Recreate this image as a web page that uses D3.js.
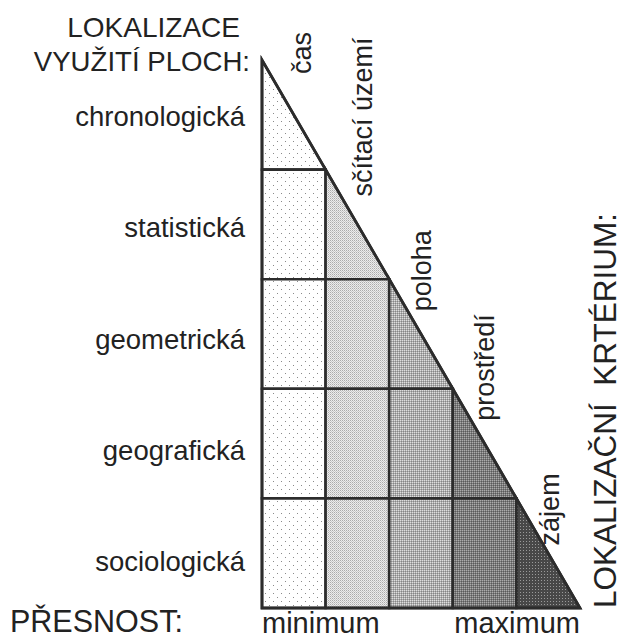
<!DOCTYPE html>
<html><head><meta charset="utf-8">
<script src="https://cdn.jsdelivr.net/npm/d3@7/dist/d3.min.js"></script>
<style>
html,body{margin:0;padding:0;background:#fff;}
svg{display:block;}
text{font-family:"Liberation Sans",Arial,Helvetica,sans-serif;fill:#222;}
</style></head>
<body>
<script>
// ---- data ----
const usageLocalization = ["chronologická","statistická","geometrická","geografická","sociologická"];
const localizationCriteria = ["čas","sčítací území","poloha","prostředí","zájem"];
const shadeLevels = [0,1,2,3,4];          // shading level of each criterion column
const precisionTicks = ["minimum","maximum"];
const titleLeft = ["LOKALIZACE","VYUŽITÍ PLOCH:"];
const titleRight = "LOKALIZAČNÍ  KRTÉRIUM:";
const titleBottom = "PŘESNOST:";

// ---- layout ----
const W = 626, H = 639;
const svg = d3.select("body").append("svg").attr("width", W).attr("height", H);
const n = usageLocalization.length;
const x = d3.scaleLinear().domain([0, n]).range([262, 580]);
const y = d3.scaleLinear().domain([0, n]).range([60, 608]);
const labelY = d3.scalePoint().domain(usageLocalization).range([126, 571]);
const diagDx = [-15, -17, -22, -22, -21];
const diagDy = [14, 27, 32, 32, 47];

// patterns
const defs = svg.append("defs");
const patternSpecs = [
  {size: 8, bg: "#ffffff", px: [[1,1,"#8a8a8a"],[5,5,"#8a8a8a"]]},
  {size: 2, bg: "#ececec", px: [[0,0,"#ababab"],[1,1,"#c9c9c9"]]},
  {size: 2, bg: "#adadad", px: [[0,0,"#dedede"],[1,1,"#868686"]]},
  {size: 2, bg: "#7c7c7c", px: [[0,0,"#ababab"],[1,1,"#5a5a5a"]]},
  {size: 3, bg: "#484848", px: [[1,1,"#9a9a9a"]]}
];
patternSpecs.forEach((p, i) => {
  const pat = defs.append("pattern").attr("id", "shade" + i)
    .attr("patternUnits", "userSpaceOnUse").attr("width", p.size).attr("height", p.size);
  pat.append("rect").attr("width", p.size).attr("height", p.size).attr("fill", p.bg);
  p.px.forEach(d => pat.append("rect").attr("x", d[0]).attr("y", d[1])
    .attr("width", 1).attr("height", 1).attr("fill", d[2]));
});

// cells
const cells = [];
usageLocalization.forEach((row, r) => {
  localizationCriteria.forEach((col, c) => {
    if (c <= r) cells.push({r, c, tri: c === r});
  });
});
const line = d3.line();
svg.append("g").selectAll("path").data(cells).join("path")
  .attr("d", d => d.tri
    ? line([[x(d.c), y(d.r)], [x(d.c), y(d.r + 1)], [x(d.c + 1), y(d.r + 1)]]) + "Z"
    : line([[x(d.c), y(d.r)], [x(d.c + 1), y(d.r)], [x(d.c + 1), y(d.r + 1)], [x(d.c), y(d.r + 1)]]) + "Z")
  .attr("fill", d => "url(#shade" + shadeLevels[d.c] + ")")
  .attr("stroke", "#2c2c2c").attr("stroke-width", 2.6).attr("stroke-linejoin", "miter");

// outline
svg.append("path")
  .attr("d", line([[x(0), y(0)], [x(0), y(n)], [x(n), y(n)]]) + "Z")
  .attr("fill", "none").attr("stroke", "#2c2c2c").attr("stroke-width", 2.8).attr("stroke-linejoin", "miter");

// row labels
svg.append("g").selectAll("text").data(usageLocalization).join("text")
  .attr("x", 245).attr("y", d => labelY(d))
  .attr("text-anchor", "end").attr("font-size", 27.5).text(d => d);

// left title
svg.append("text").attr("x", 240).attr("y", 37).attr("text-anchor", "end").attr("font-size", 28).text(titleLeft[0]);
svg.append("text").attr("x", 250).attr("y", 71).attr("text-anchor", "end").attr("font-size", 27.6).text(titleLeft[1]);

// diagonal criterion labels
svg.append("g").selectAll("text").data(localizationCriteria).join("text")
  .attr("transform", (d, i) => `translate(${x(i + 1) + diagDx[i]},${y(i) + diagDy[i]}) rotate(-90)`)
  .attr("font-size", 27).text(d => d);

// right title
svg.append("text").attr("transform", `translate(616,608) rotate(-90)`)
  .attr("font-size", 31.5).attr("xml:space", "preserve").style("white-space", "pre").text(titleRight);

// bottom
svg.append("text").attr("x", 10).attr("y", 632).attr("font-size", 30.5).text(titleBottom);
svg.append("text").attr("x", x(0)).attr("y", 633).attr("font-size", 29).text(precisionTicks[0]);
svg.append("text").attr("x", x(n)).attr("y", 633).attr("text-anchor", "end").attr("font-size", 29).text(precisionTicks[1]);
</script>
</body></html>
